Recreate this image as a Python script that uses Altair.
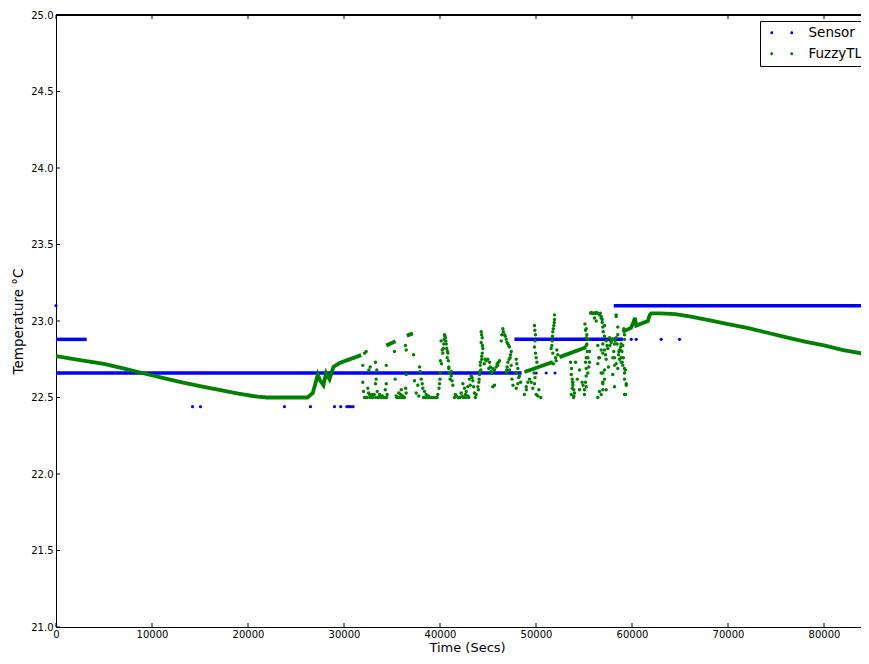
import altair as alt
import pandas as pd

# ---------------- data ----------------
# Sensor: long runs of constant (quantised) readings
sensor_seg_start = [0, 0, 47750, 58100]
sensor_seg_end = [3200, 48500, 59050, 84690]
sensor_seg_level = [22.88, 22.66, 22.88, 23.10]
# Sensor: isolated readings
sensor_pts_t = [0, 14220, 15050, 23800, 26510, 29010, 29660, 30300, 30520, 30700, 30950,
                50020, 51060, 51980, 59920, 60440, 63040, 64950]
sensor_pts_v = [23.10, 22.44, 22.44, 22.44, 22.44, 22.44, 22.44, 22.44, 22.44, 22.44, 22.44,
                22.66, 22.66, 22.66, 22.88, 22.88, 22.88, 22.88]

# FuzzyTL: continuous traces (segment id, time, value)
fuzzy_line_seg = [1] * 23 + [2] * 2 + [3] * 2 + [4] * 2 + [5] * 2 + [6] * 20
fuzzy_line_t = [0, 2500, 5000, 7000, 9000, 11000, 13000, 15000, 17000, 19000, 21000, 22000,
                26200, 26750, 26930, 27270, 27520, 27860, 28140, 28490, 28900, 29530, 31790,
                34400, 35370,
                36540, 37170,
                48800, 51750,
                52450, 55230,
                59000, 59900, 60150, 60300, 60440, 61650, 61850, 62000, 63000, 64500, 66000,
                68000, 70000, 72000, 74000, 76000, 78000, 80000, 82000, 84690]
fuzzy_line_v = [22.77, 22.745, 22.72, 22.69, 22.66, 22.63, 22.60, 22.575, 22.55, 22.525, 22.505, 22.50,
                22.50, 22.53, 22.57, 22.65, 22.61, 22.58, 22.66, 22.62, 22.70, 22.725, 22.777,
                22.84, 22.868,
                22.904, 22.919,
                22.667, 22.732,
                22.764, 22.829,
                22.93, 22.955, 22.99, 23.02, 22.97, 23.00, 23.04, 23.05, 23.05, 23.045, 23.03,
                23.005, 22.98, 22.955, 22.925, 22.895, 22.865, 22.84, 22.81, 22.78]

# FuzzyTL: scattered readings
fuzzy_pts_t = [
    32140, 32310, 31960, 31960, 32030, 32140, 32480, 32660, 32830, 32730, 32590, 33280, 33420, 33350, 33280, 33460,
    32400, 32700, 33000, 33300, 33600, 33900, 34200, 34430, 32900, 33700, 34000,
    34400, 34400, 34500, 35260, 35330,
    35440, 35710, 35960, 36130, 36300, 36480, 35610, 35800, 36000,
    36480, 36480, 36400, 37240,
    37340, 37690, 37870, 37940, 38040, 38150, 38210, 38390, 38560, 37520, 37790,
    38700, 38900, 39100, 39300, 39500, 39700,
    39770, 39950, 40050, 40160, 40290, 40400, 40470, 40650, 40820, 40920, 40120, 40230, 40050, 40550, 40700,
    40750, 40870, 40000, 39900,
    40920, 41170, 41170, 41340,
    41500, 41700, 41900, 42100, 42300, 42500, 42700, 42900, 43000,
    42380, 42550, 42730, 42900, 43070, 43250, 43420, 43590, 43770,
    44290, 44400, 44290, 44460, 44400, 44190, 44115, 44050, 43940, 44350, 44250,
    44810, 44980, 45160, 45090, 45330, 45500, 45680, 45850, 46020, 46200, 45500, 45680,
    46550, 46720, 46900, 47070, 47240, 47420, 47310, 47070, 47420, 47240, 46900, 46440, 46380,
    47940, 48000, 48110, 47940, 48280, 48110, 47940,
    48800, 48980, 49150, 49320, 49670, 49840, 50020, 50190,
    49840, 49950, 49840, 50020, 50090,
    51930, 51930, 51860, 51750, 51690, 51580, 51750, 52030, 52170, 52270,
    53600, 53670, 53770, 53840, 53940, 54010, 53670, 53840, 53770, 53910,
    54120, 54530, 54530,
    55160, 55230, 55300, 55230, 55160, 55230, 55400, 55230, 55050,
    55230, 55400, 55230, 55570, 55400, 55570, 55230, 55050,
    55750, 55900, 56090, 56270, 56450, 56610, 56790, 56900, 56090, 56270, 56790, 56900,
    56440, 56610, 56790, 56960, 57140, 56960, 57140, 56960, 56790, 56960,
    56440, 56540, 56790, 56960, 56610, 56440,
    56960, 57140, 57310, 57140, 56960, 57240, 57310, 57140, 57310,
    57480, 57830, 58000, 58180, 58000, 58180, 58350, 58520,
    57660, 57830, 58000, 58180, 58350, 58180, 58350, 58520, 58700, 58870, 59040, 58630, 58770, 58520, 58350,
    58700, 58870, 58980, 59220, 58870, 59220, 59400, 59220,
    59150, 59220, 59220, 59040, 59220, 59400, 59330,
    # denser parts of the columns
    32250, 32560, 32950, 33150, 33550, 33800, 34100, 34300, 34350, 35500, 35900, 36200, 36420,
    38300, 38480, 38800, 39200, 39600, 40350, 40430, 40520, 40600, 40780, 40980, 41050, 41250,
    41600, 42000, 42200, 42450, 42650, 43150, 43350, 43500, 43680,
    44330, 44420, 44350, 44200, 44150, 44080, 44000, 44600, 44700, 45250, 45420, 45950, 46100,
    46600, 46800, 46980, 47150, 47350, 47200, 47000, 46950, 47500, 47600, 48200, 48400,
    49880, 49900, 49950, 49800, 49900, 49000, 49500, 50300, 50500,
    51900, 51800, 51720, 51650, 51800, 52100, 53700, 53800, 53950, 54300, 54800, 54900,
    55100, 55300, 55350, 55150, 55500, 55700, 56000, 56200, 56350, 56700, 57000, 57400, 57550,
    57700, 57900, 58100, 58250, 58450, 58600, 58800, 58950, 59100, 59300,
]
fuzzy_pts_v = [
    22.79, 22.80, 22.71, 22.60, 22.54, 22.50, 22.56, 22.52, 22.51, 22.70, 22.68, 22.73, 22.68, 22.62, 22.59, 22.54,
    22.50, 22.50, 22.50, 22.50, 22.50, 22.50, 22.50, 22.50, 22.52, 22.52, 22.51,
    22.71, 22.59, 22.52, 22.80, 22.62,
    22.51, 22.53, 22.55, 22.51, 22.50, 22.53, 22.50, 22.50, 22.50,
    22.81, 22.65, 22.84, 22.78,
    22.61, 22.58, 22.70, 22.67, 22.62, 22.59, 22.56, 22.54, 22.52, 22.53, 22.51,
    22.50, 22.50, 22.50, 22.50, 22.50, 22.50,
    22.52, 22.59, 22.66, 22.72, 22.79, 22.85, 22.91, 22.85, 22.79, 22.70, 22.87, 22.81, 22.74, 22.89, 22.82,
    22.76, 22.74, 22.62, 22.56,
    22.69, 22.67, 22.64, 22.58,
    22.50, 22.51, 22.50, 22.50, 22.51, 22.50, 22.50, 22.51, 22.50,
    22.59, 22.56, 22.54, 22.57, 22.62, 22.64, 22.61, 22.53, 22.52,
    22.93, 22.89, 22.86, 22.82, 22.79, 22.71, 22.65, 22.60, 22.57, 22.75, 22.68,
    22.74, 22.75, 22.73, 22.69, 22.67, 22.69, 22.68, 22.70, 22.71, 22.74, 22.57, 22.58,
    22.95, 22.91, 22.88, 22.85, 22.83, 22.80, 22.76, 22.73, 22.71, 22.68, 22.66, 22.91, 22.87,
    22.75, 22.72, 22.69, 22.66, 22.64, 22.59, 22.56,
    22.52, 22.57, 22.60, 22.62, 22.56, 22.59, 22.52, 22.51,
    22.97, 22.91, 22.83, 22.76, 22.73,
    23.04, 23.01, 22.97, 22.93, 22.87, 22.82, 22.79, 22.76, 22.81, 22.78,
    22.73, 22.65, 22.62, 22.58, 22.55, 22.53, 22.52, 22.60, 22.56, 22.50,
    22.73, 22.68, 22.55,
    22.94, 22.89, 22.85, 22.76, 22.73, 22.69, 22.66, 22.57, 22.52,
    22.95, 22.88, 22.84, 22.80, 22.76, 22.73, 22.64, 22.55,
    23.055, 23.05, 23.05, 23.055, 23.05, 23.04, 23.02, 22.99, 23.02, 23.00, 23.03, 23.01,
    22.72, 22.76, 22.81, 22.85, 22.90, 22.66, 22.62, 22.59, 22.52, 22.55,
    22.84, 22.76, 22.66, 22.60, 22.54, 22.50,
    22.96, 22.97, 22.87, 22.81, 22.79, 22.78, 22.75, 22.68, 22.55,
    22.82, 22.87, 22.76, 22.71, 22.65, 22.57, 23.04, 22.96,
    22.89, 22.86, 22.88, 22.85, 22.89, 22.76, 22.72, 22.69, 22.75, 22.73, 22.71, 22.80, 22.81, 22.91, 23.03,
    22.81, 22.76, 22.73, 22.69, 22.85, 22.52, 22.59, 22.62,
    22.95, 22.91, 22.88, 22.84, 22.66, 22.58, 22.52,
    # denser parts of the columns
    22.50, 22.53, 22.50, 22.52, 22.50, 22.51, 22.50, 22.55, 22.50, 22.50, 22.52, 22.50, 22.56,
    22.50, 22.50, 22.51, 22.50, 22.50, 22.82, 22.88, 22.90, 22.87, 22.80, 22.66, 22.62, 22.61,
    22.52, 22.50, 22.53, 22.50, 22.52, 22.58, 22.63, 22.57, 22.50,
    22.91, 22.84, 22.77, 22.73, 22.67, 22.62, 22.55, 22.72, 22.75, 22.70, 22.66, 22.72, 22.73,
    22.93, 22.90, 22.86, 22.84, 22.78, 22.75, 22.70, 22.68, 22.62, 22.58, 22.63, 22.60,
    22.94, 22.87, 22.79, 22.66, 22.63, 22.55, 22.60, 22.55, 22.50,
    22.99, 22.95, 22.90, 22.84, 22.72, 22.74, 22.69, 22.60, 22.51, 22.62, 22.60, 22.58,
    22.98, 22.91, 22.80, 22.60, 22.70, 23.05, 23.05, 23.05, 23.05, 23.05, 22.93, 22.84, 22.70,
    22.84, 22.88, 22.80, 22.87, 22.85, 22.78, 22.83, 22.80, 22.76, 22.68,
]

series_names = ["Sensor", "FuzzyTL"]
series_colors = ["#0000ff", "#008000"]

x_tick_values = [0, 10000, 20000, 30000, 40000, 50000, 60000, 70000, 80000]
y_tick_values = [21.0, 21.5, 22.0, 22.5, 23.0, 23.5, 24.0, 24.5, 25.0]

# ---------------- tables ----------------
seg_df = pd.DataFrame({"t": sensor_seg_start, "t2": sensor_seg_end, "v": sensor_seg_level})
spts_df = pd.DataFrame({"t": sensor_pts_t, "v": sensor_pts_v})
fline_df = pd.DataFrame({"seg": fuzzy_line_seg, "t": fuzzy_line_t, "v": fuzzy_line_v})
fpts_df = pd.DataFrame({"t": fuzzy_pts_t, "v": fuzzy_pts_v, "series": "FuzzyTL"})
xt_df = pd.DataFrame({"t": x_tick_values})
yt_df = pd.DataFrame({"v": y_tick_values})

# SVG must stay within 853 x 648 so the page does not overflow the window
PAD_L, PAD_T, PAD_B = 48, 7, 29
W, H = 805, 612
FONT = "DejaVu Sans"
X_MAX = W / 0.0096  # keeps the reference spacing of 96 px per 10000 s

xs = alt.Scale(domain=[0, X_MAX], nice=False, zero=False)
ys = alt.Scale(domain=[21, 25], nice=False, zero=False)

x_axis = alt.Axis(values=x_tick_values, format="d", title="Time (Secs)", tickSize=0,
                  labelPadding=2, labelFontSize=10, titleFontSize=13, grid=False,
                  domainColor="black", labelColor="black", titleColor="black",
                  titleFontWeight="normal", titleX=411, titlePadding=2,
                  labelFlush=False, labelFont=FONT, titleFont=FONT)
y_axis = alt.Axis(values=y_tick_values, format=".1f", title="Temperature °C", tickSize=0,
                  labelPadding=3, labelFontSize=10, titleFontSize=13.5, grid=False,
                  domainColor="black", labelColor="black", titleColor="black",
                  titleFontWeight="normal", titlePadding=5,
                  labelFlush=False, labelFont=FONT, titleFont=FONT)

X = alt.X("t:Q", scale=xs, axis=x_axis)
Y = alt.Y("v:Q", scale=ys, axis=y_axis)

two_dots = ("M-1.7,0A0.3,0.3,0,1,1,-2.3,0A0.3,0.3,0,1,1,-1.7,0Z"
            "M2.3,0A0.3,0.3,0,1,1,1.7,0A0.3,0.3,0,1,1,2.3,0Z")

sensor_runs = alt.Chart(seg_df).mark_rule(color=series_colors[0], strokeWidth=3.5, clip=True).encode(
    x=X, x2="t2:Q", y=Y)
sensor_dots = alt.Chart(spts_df).mark_circle(color=series_colors[0], size=10, opacity=1).encode(
    x=X, y=Y)
fuzzy_trace = alt.Chart(fline_df).mark_line(color=series_colors[1], strokeWidth=3.8, clip=True).encode(
    x=X, y=Y, detail="seg:N")
fuzzy_dots = alt.Chart(fpts_df).mark_circle(size=12, opacity=1).encode(
    x=X, y=Y,
    color=alt.Color("series:N", scale=alt.Scale(domain=series_names, range=series_colors),
                    legend=alt.Legend(title=None, orient="none", legendX=704, legendY=6,
                                      symbolType=two_dots, symbolSize=100,
                                      symbolStrokeWidth=0, symbolOpacity=1,
                                      strokeColor="black", fillColor="white",
                                      padding=5, symbolOffset=10, labelOffset=20,
                                      rowPadding=6, labelFontSize=13.5, labelFont=FONT,
                                      labelColor="black", cornerRadius=0)))

x_ticks_bottom = alt.Chart(xt_df).mark_rule(color="black").encode(
    x=X, y=alt.value(H), y2=alt.value(H - 4))
x_ticks_top = alt.Chart(xt_df).mark_rule(color="black").encode(
    x=X, y=alt.value(0), y2=alt.value(4))
y_ticks = alt.Chart(yt_df).mark_rule(color="black").encode(
    y=Y, x=alt.value(0), x2=alt.value(4))
top_frame = alt.Chart(xt_df).mark_rule(color="black").encode(
    x=alt.value(0), x2=alt.value(W), y=alt.value(0))

chart = alt.layer(
    sensor_runs, sensor_dots, fuzzy_trace, fuzzy_dots,
    x_ticks_bottom, x_ticks_top, y_ticks, top_frame,
).properties(
    width=W, height=H,
    autosize=alt.AutoSizeParams(type="none"),
    padding={"left": PAD_L, "top": PAD_T, "right": 0, "bottom": PAD_B},
    background="white",
).configure_view(stroke=None)

chart.save("out.html", embed_options={"renderer": "svg", "actions": False})
